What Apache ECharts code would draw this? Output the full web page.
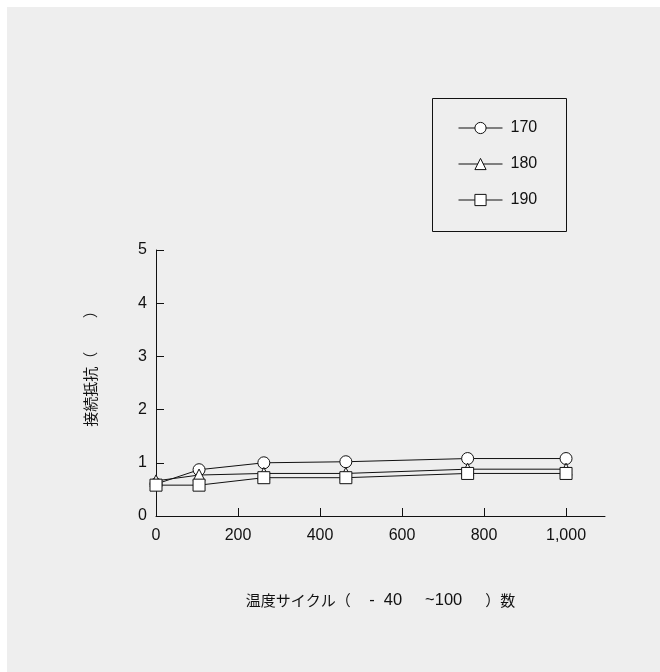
<!DOCTYPE html>
<html>
<head>
<meta charset="utf-8">
<script src="https://cdn.jsdelivr.net/npm/echarts@6/dist/echarts.min.js"></script>
<style>
  html, body { margin: 0; padding: 0; background: #ffffff; }
  #chart { width: 660px; height: 672px; }
</style>
</head>
<body>
<div id="chart"></div>
<script>
// Thermal cycle counts (x) and contact resistance for each sample
const cycles = [0, 105, 263, 463, 760, 1000];
const seriesNames = ['170', '180', '190'];
const r170 = [0.6, 0.87, 1.0, 1.02, 1.08, 1.08];
const r180 = [0.66, 0.77, 0.8, 0.8, 0.88, 0.88];
const r190 = [0.58, 0.58, 0.72, 0.72, 0.8, 0.8];
const xTicks = [0, 200, 400, 600, 800, 1000];
const yTicks = [0, 1, 2, 3, 4, 5];

const pairs = vals => cycles.map((c, i) => [c, vals[i]]);
const latin = '"Liberation Sans", Arial, sans-serif';
const cjk = '"Noto Sans CJK JP", sans-serif';
const ink = '#111111';

function makeSeries(name, vals, symbol, size) {
  return {
    name: name,
    type: 'line',
    data: pairs(vals),
    symbol: symbol,
    symbolSize: size,
    showAllSymbol: true,
    lineStyle: { color: ink, width: 1 },
    itemStyle: { color: '#ffffff', borderColor: ink, borderWidth: 1 },
    emphasis: { disabled: true },
    animation: false
  };
}

const nameRich = {
  c: { fontFamily: cjk, fontSize: 15, color: ink },
  l: { fontFamily: latin, fontSize: 16.5, color: ink }
};

const chart = echarts.init(document.getElementById('chart'), null, { renderer: 'canvas' });
chart.setOption({
  backgroundColor: '#ffffff',
  animation: false,
  graphic: [
    { type: 'rect', z: -10, shape: { x: 7, y: 7, width: 653, height: 665 }, style: { fill: '#eeeeee' } },
    { type: 'rect', z: 1, shape: { x: 432.5, y: 98.5, width: 134, height: 133 }, style: { fill: 'none', stroke: ink, lineWidth: 1 } }
  ],
  grid: { left: 156, right: 55, top: 250, bottom: 156, containLabel: false },
  legend: {
    data: seriesNames,
    orient: 'vertical',
    left: 458,
    top: 120,
    padding: 0,
    itemWidth: 44,
    itemHeight: 14,
    itemGap: 20,
    itemStyle: { borderWidth: 1 },
    lineStyle: { width: 1 },
    textStyle: { fontFamily: latin, fontSize: 16, color: ink, padding: [0, 0, 0, 3] },
    selectedMode: false
  },
  xAxis: {
    type: 'value',
    min: 0,
    max: 1095,
    name: '{c|温度サイクル（}{l|    -  40     ~100     }{c|）数}',
    nameLocation: 'middle',
    nameGap: 76,
    nameTextStyle: { rich: nameRich },
    axisLine: { lineStyle: { color: ink, width: 1 } },
    axisTick: { inside: true, length: 8, customValues: xTicks, lineStyle: { color: ink } },
    axisLabel: {
      customValues: xTicks,
      margin: 12,
      fontFamily: latin, fontSize: 16, color: ink,
      formatter: v => v >= 1000 ? Math.floor(v / 1000) + ',' + String(v % 1000).padStart(3, '0') : String(v)
    },
    splitLine: { show: false }
  },
  yAxis: {
    type: 'value',
    min: 0,
    max: 5,
    interval: 1,
    name: '{c|接続抵抗（　}{l|    }{c|）}',
    nameLocation: 'middle',
    nameGap: 57,
    nameTextStyle: { rich: nameRich, padding: [0, 0, 0, 36] },
    axisLine: { show: true, lineStyle: { color: ink, width: 1 } },
    axisTick: { show: true, inside: true, length: 8, customValues: yTicks, lineStyle: { color: ink } },
    axisLabel: { customValues: yTicks, margin: 9, fontFamily: latin, fontSize: 16, color: ink },
    splitLine: { show: false }
  },
  series: [
    makeSeries(seriesNames[0], r170, 'circle', 12),
    makeSeries(seriesNames[1], r180, 'triangle', 12),
    makeSeries(seriesNames[2], r190, 'rect', 12)
  ]
});
</script>
</body>
</html>
